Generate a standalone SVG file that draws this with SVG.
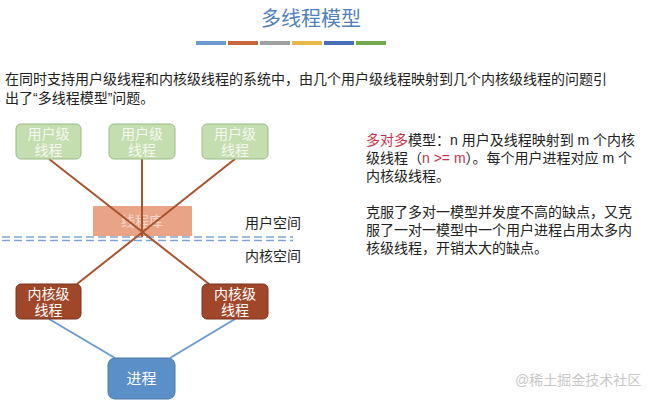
<svg xmlns="http://www.w3.org/2000/svg" width="651" height="401" viewBox="0 0 651 401">
<style>
text{font-family:"Liberation Sans","Noto Sans CJK SC",sans-serif}
.t{font-size:14px;fill:#222}
.ul rect{fill:#c5deb0;stroke:#9bbb84;stroke-width:1}
.ul text{fill:#f4f8ef;font-size:14px;text-anchor:middle}
.kl rect{fill:#a0472a;stroke:#7a3520}
.kl text{fill:#fff;font-size:14px;text-anchor:middle}
.r{stroke:#a8532f;stroke-width:2;fill:none}
.b{stroke:#6d9bd0;stroke-width:2;fill:none}
.d{stroke:#7fa6d6;stroke-width:1.5;stroke-dasharray:8,4}
</style>
<rect width="651" height="401" fill="#fff"/>
<text x="311" y="26" font-size="20" fill="#4f81bd" text-anchor="middle">多线程模型</text>
<g>
<rect x="196" y="41" width="30" height="4" fill="#6d9bd0"/>
<rect x="228" y="41" width="30" height="4" fill="#c8673d"/>
<rect x="260" y="41" width="30" height="4" fill="#a0a0a0"/>
<rect x="292" y="41" width="30" height="4" fill="#e8b84a"/>
<rect x="324" y="41" width="30" height="4" fill="#4a6db8"/>
<rect x="356" y="41" width="30" height="4" fill="#73a84f"/>
</g>
<text class="t" x="5" y="84">在同时支持用户级线程和内核级线程的系统中，由几个用户级线程映射到几个内核级线程的问题引</text>
<text class="t" x="5" y="103">出了“多线程模型”问题。</text>
<g id="lib"><rect x="93" y="206" width="99" height="30" fill="#e9a488"/><text x="142" y="226" font-size="14" fill="#f6d6c8" text-anchor="middle">线程库</text></g>
<line class="d" x1="2" y1="237" x2="293" y2="237"/>
<line class="d" x1="2" y1="240.5" x2="293" y2="240.5"/>
<text class="t" x="245" y="228">用户空间</text>
<text class="t" x="245" y="261">内核空间</text>
<g id="connectors">
<line class="r" x1="49" y1="159" x2="209" y2="284"/>
<line class="r" x1="142" y1="159" x2="142" y2="237"/>
<line class="r" x1="235" y1="159" x2="77" y2="284"/>
<line class="b" x1="49" y1="319" x2="115" y2="358"/>
<line class="b" x1="235" y1="319" x2="170" y2="358"/>
</g>
<g id="u1" class="ul"><rect x="16" y="124" width="65" height="35" rx="5"/><text x="48.5" y="139">用户级</text><text x="48.5" y="155">线程</text></g>
<g id="u2" class="ul"><rect x="109" y="124" width="66" height="35" rx="5"/><text x="142" y="139">用户级</text><text x="142" y="155">线程</text></g>
<g id="u3" class="ul"><rect x="202" y="124" width="66" height="35" rx="5"/><text x="235" y="139">用户级</text><text x="235" y="155">线程</text></g>
<g id="k1" class="kl"><rect x="16" y="284" width="65" height="35" rx="5"/><text x="48.5" y="299">内核级</text><text x="48.5" y="315">线程</text></g>
<g id="k2" class="kl"><rect x="202" y="284" width="66" height="35" rx="5"/><text x="235" y="299">内核级</text><text x="235" y="315">线程</text></g>
<g id="proc"><rect x="108" y="358" width="67" height="41" rx="7" fill="#5b8fc7" stroke="#4a78ab"/><text x="141.5" y="384" font-size="15" fill="#fff" text-anchor="middle">进程</text></g>
<g class="t">
<text x="366" y="145"><tspan fill="#c8324a">多对多</tspan>模型：n 用户及线程映射到 m 个内核</text>
<text x="366" y="163">级线程（<tspan fill="#c8324a">n &gt;= m</tspan>）。每个用户进程对应 m 个</text>
<text x="366" y="181">内核级线程。</text>
<text x="366" y="217">克服了多对一模型并发度不高的缺点，又克</text>
<text x="366" y="235">服了一对一模型中一个用户进程占用太多内</text>
<text x="366" y="253">核级线程，开销太大的缺点。</text>
</g>
<text x="515" y="385" font-size="14" fill="#c8c8c8">@稀土掘金技术社区</text>
</svg>
